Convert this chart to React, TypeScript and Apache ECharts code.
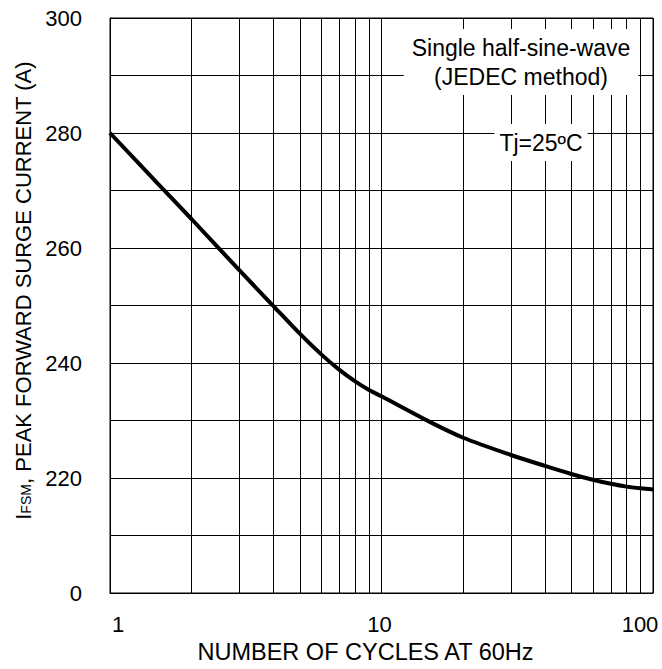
import React, { useEffect, useRef } from "react";
import * as echarts from "echarts";

// Curve (log x axis)
const cycles = [1, 1.5, 2, 3, 4, 5, 6, 7, 8, 9, 10, 15, 20, 30, 40, 50, 60, 70, 80, 90, 100];
const surgeCurrent = [280, 271.2, 265.0, 256.1, 249.9, 245.1, 241.5, 238.8, 236.8, 235.3, 234.2, 229.8, 227.0, 224.0, 222.1, 220.7, 219.7, 219.0, 218.5, 218.2, 218.0];

// Minor gridlines on the log axis
const minorCycles = [2, 3, 4, 5, 6, 7, 8, 9, 20, 30, 40, 50, 60, 70, 80, 90];

// Tick labels
const xTickLabels: Record<number, string> = { 1: "1", 10: "10", 100: "100" };
const yTickLabels: Record<number, string> = { 200: "0", 220: "220", 240: "240", 260: "260", 280: "280", 300: "300" };

const annotation1 = "Single half-sine-wave\n(JEDEC method)";
const annotation2 = "Tj=25ºC";

export default function App() {
  const ref = useRef<HTMLDivElement>(null);
  useEffect(() => {
    if (!ref.current) return;
    const chart = echarts.init(ref.current, null, { renderer: "svg" });
    const font = "'Liberation Sans', Arial, sans-serif";
    const data = cycles.map((c, i) => [c, surgeCurrent[i]]);
    chart.setOption({
      animation: false,
      backgroundColor: "#fff",
      textStyle: { fontFamily: font },
      grid: {
        left: 110,
        right: 9,
        top: 18,
        bottom: 67,
        show: true,
        borderColor: "#000",
        borderWidth: 1,
      },
      xAxis: {
        type: "log",
        logBase: 10,
        min: 1,
        max: 100,
        name: "NUMBER OF CYCLES AT 60Hz",
        nameLocation: "middle",
        nameGap: 47,
        nameTextStyle: { fontSize: 23.5, color: "#000", fontFamily: font, padding: [0, 32, 0, 0] },
        axisLine: { show: true, lineStyle: { color: "#000", width: 1 } },
        axisTick: { show: false },
        splitLine: { show: true, lineStyle: { color: "#000", width: 1 } },
        axisLabel: {
          margin: 20,
          color: "#000",
          fontSize: 22,
          fontFamily: font,
          formatter: (v: number) => {
            const r = Math.round(v);
            const t = xTickLabels[r];
            if (!t) return "";
            if (r === 1) return "{l|" + t + "}";
            if (r === 10) return "{c|" + t + "}";
            return "{r|" + t + "}";
          },
          rich: {
            l: { fontSize: 22, color: "#000", fontFamily: font, padding: [0, 0, 0, 16] },
            c: { fontSize: 22, color: "#000", fontFamily: font, padding: [0, 4, 0, 0] },
            r: { fontSize: 22, color: "#000", fontFamily: font, padding: [0, 26, 0, 0] },
          },
        },
      },
      yAxis: {
        type: "value",
        min: 200,
        max: 300,
        interval: 10,
        name: "{a|I}{s|FSM}{a|, PEAK FORWARD SURGE CURRENT (A)}",
        nameLocation: "middle",
        nameRotate: 90,
        nameGap: 72,
        nameTextStyle: {
          fontFamily: font,
          color: "#000",
          padding: [0, 0, 0, 30],
          rich: {
            a: { fontSize: 22, color: "#000", fontFamily: font, verticalAlign: "bottom", lineHeight: 27 },
            s: { fontSize: 14, color: "#000", fontFamily: font, verticalAlign: "bottom", lineHeight: 27, padding: [0, 0, 1, 0] },
          },
        },
        axisLine: { show: true, lineStyle: { color: "#000", width: 1 } },
        axisTick: { show: false },
        splitLine: { show: true, lineStyle: { color: "#000", width: 1 } },
        axisLabel: {
          margin: 28,
          color: "#000",
          fontSize: 22,
          fontFamily: font,
          formatter: (v: number) => yTickLabels[Math.round(v)] ?? "",
        },
      },
      series: [
        {
          type: "line",
          data,
          smooth: 0.3,
          showSymbol: false,
          symbol: "none",
          lineStyle: { color: "#000", width: 4 },
          z: 5,
          markLine: {
            silent: true,
            symbol: ["none", "none"],
            label: { show: false },
            lineStyle: { color: "#000", width: 1, type: "solid" },
            emphasis: { disabled: true },
            data: minorCycles.map((c) => ({ xAxis: c })),
          },
        },
      ],
      graphic: [
        {
          type: "text",
          x: 521,
          y: 29,
          z: 100,
          style: {
            text: annotation1,
            fontSize: 23,
            lineHeight: 29,
            fontFamily: font,
            fill: "#000",
            align: "center",
            verticalAlign: "top",
            backgroundColor: "#fff",
            padding: [4, 8, 4, 8],
          },
        },
        {
          type: "text",
          x: 541,
          y: 124,
          z: 100,
          style: {
            text: annotation2,
            fontSize: 23,
            lineHeight: 29,
            fontFamily: font,
            fill: "#000",
            align: "center",
            verticalAlign: "top",
            backgroundColor: "#fff",
            padding: [4, 5, 4, 5],
          },
        },
      ],
    });
    return () => chart.dispose();
  }, []);
  return (
    <div
      ref={ref}
      style={{ position: "fixed", left: 0, top: 0, width: 662, height: 669, background: "#fff" }}
    />
  );
}
